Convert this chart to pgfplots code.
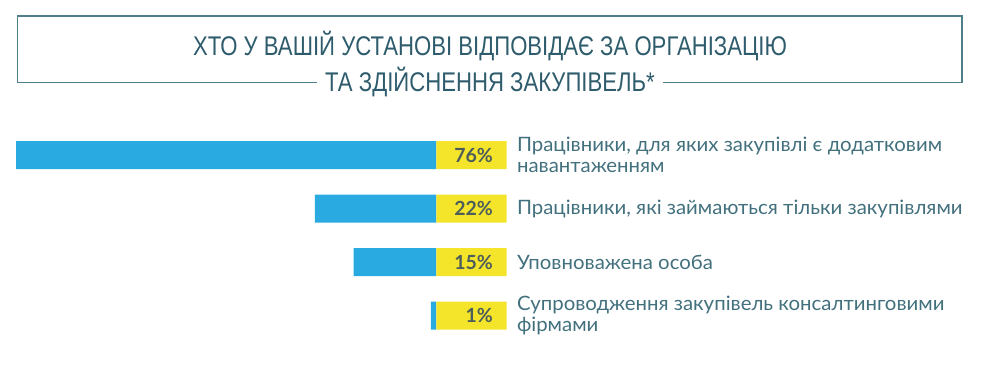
\documentclass[border=0pt]{standalone}
\usepackage{pgfplots}
\pgfplotsset{compat=1.18}
\usepackage{fontspec}
\setmainfont{Lato}
\newfontfamily\titlefont[FakeStretch=0.82]{Liberation Sans}
\newfontfamily\labelfont[FakeStretch=1.03]{Lato}
\newfontfamily\pctfont{Lato}
\definecolor{barblue}{HTML}{29ABE2}
\definecolor{baryellow}{HTML}{F4E52B}
\definecolor{framecol}{HTML}{4F8089}
\definecolor{titlecol}{HTML}{2E5C6C}
\definecolor{labelcol}{HTML}{42707D}
\definecolor{pctcol}{HTML}{4D5E5A}
\begin{document}
\begin{tikzpicture}[x=1pt,y=1pt]
\useasboundingbox (0,0) rectangle (985,368);
% title frame
\draw[framecol, line width=1.8pt] (17.5,285.5) -- (17.5,352.3) -- (962,352.3) -- (962,285.5);
\node[text=titlecol, font=\titlefont\fontsize{27}{30}\selectfont] at (490,322) {ХТО У ВАШІЙ УСТАНОВІ ВІДПОВІДАЄ ЗА ОРГАНІЗАЦІЮ};
\node[text=titlecol, font=\titlefont\fontsize{27}{30}\selectfont, inner sep=8pt] (t2) at (490,286.5) {ТА ЗДІЙСНЕННЯ ЗАКУПІВЕЛЬ*};
\draw[framecol, line width=1.8pt] (17.5,285.5) -- (t2.west |- 0,285.5);
\draw[framecol, line width=1.8pt] (t2.east |- 0,285.5) -- (962,285.5);
\begin{axis}[
  at={(9.6pt,25.75pt)}, anchor=south west,
  scale only axis, width=496.9pt, height=214pt,
  xbar, bar width=28pt,
  x dir=reverse, y dir=reverse,
  xmin=-12.66, xmax=77.2,
  ymin=-0.5, ymax=3.5,
  axis line style={draw=none},
  xtick=\empty,
  ytick={0,1,2,3},
  yticklabels={{Працівники, для яких закупівлі є додатковим\\навантаженням},
               {Працівники, які займаються тільки закупівлями},
               {Уповноважена особа},
               {Супроводження закупівель консалтинговими\\фірмами}},
  yticklabel pos=right,
  major tick length=0pt,
  yticklabel style={anchor=west, align=left, xshift=7pt, text=labelcol,
    font=\labelfont\fontsize{19.8}{20.5}\selectfont},
  clip=false,
]
\addplot[draw=none, fill=barblue, bar shift=0pt] coordinates {(76,0) (22,1) (15,2) (1,3)};
\addplot[draw=none, fill=baryellow, bar shift=0pt,
  point meta=explicit,
  nodes near coords={\pgfmathprintnumber[assume math mode=true]{\pgfplotspointmeta}\%},
  every node near coord/.append style={anchor=east, xshift=-10pt, text=pctcol,
    font=\pctfont\bfseries\fontsize{19.5}{20}\selectfont}]
  coordinates {(-12.66,0) [76] (-12.66,1) [22] (-12.66,2) [15] (-12.66,3) [1]};
\end{axis}
\end{tikzpicture}
\end{document}
